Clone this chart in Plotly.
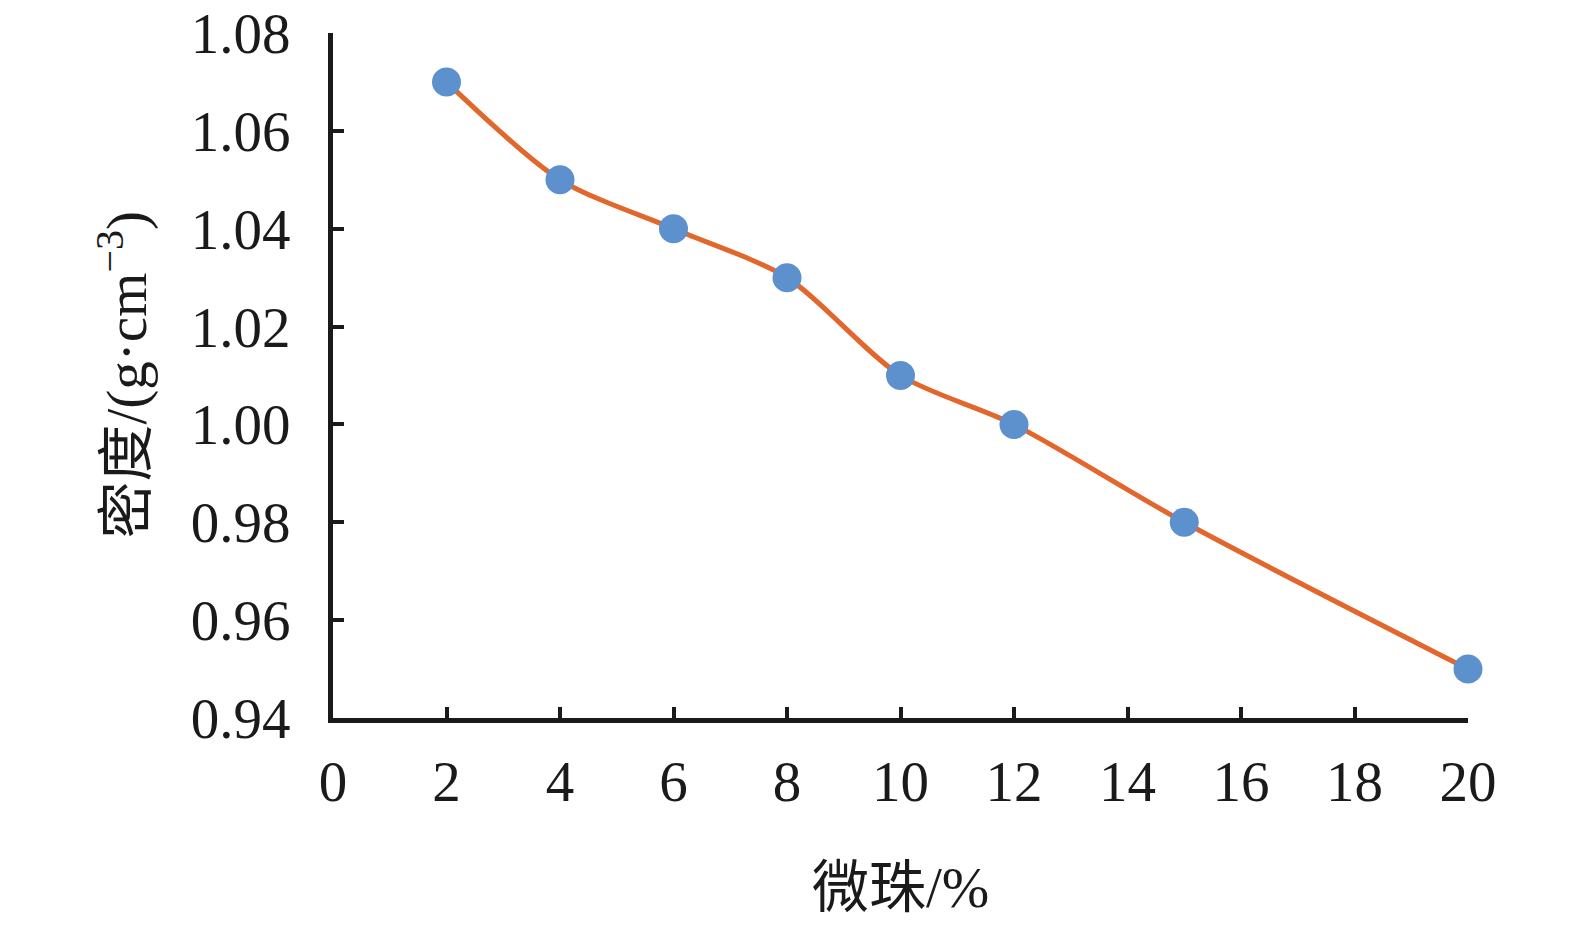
import plotly.graph_objects as go

microbead_pct = [2, 4, 6, 8, 10, 12, 15, 20]
density = [1.07, 1.05, 1.04, 1.03, 1.01, 1.00, 0.98, 0.95]
x_ticks = [0, 2, 4, 6, 8, 10, 12, 14, 16, 18, 20]
y_ticks = [0.94, 0.96, 0.98, 1.00, 1.02, 1.04, 1.06, 1.08]
y_tick_text = ["0.94", "0.96", "0.98", "1.00", "1.02", "1.04", "1.06", "1.08"]

FONT = "Liberation Serif, Noto Sans CJK SC, serif"

fig = go.Figure()
fig.add_trace(go.Scatter(
    x=microbead_pct, y=density, mode="lines+markers",
    line=dict(color="#E2672D", width=5, shape="spline", smoothing=0.8),
    marker=dict(color="#5C91CE", size=29, line=dict(width=0)),
    showlegend=False, cliponaxis=False,
))

fig.update_layout(
    width=1575, height=926,
    margin=dict(l=333, r=107, t=33, b=208),
    paper_bgcolor="white", plot_bgcolor="white",
    font=dict(family=FONT, size=57, color="#1a1a1a"),
    xaxis=dict(range=[0, 20], tickvals=x_ticks, ticks="inside", ticklen=11,
               tickwidth=4, tickcolor="#1a1a1a", showline=True, linewidth=5,
               linecolor="#1a1a1a", showgrid=False, zeroline=False,
               automargin=False, ticklabeloverflow="allow",
               ticklabelstandoff=10, tickfont=dict(size=57, family=FONT)),
    yaxis=dict(range=[0.94, 1.08], tickvals=y_ticks, ticktext=y_tick_text,
               ticks="inside", ticklen=11, tickwidth=4, tickcolor="#1a1a1a",
               showline=True, linewidth=5, linecolor="#1a1a1a",
               showgrid=False, zeroline=False, automargin=False,
               ticklabeloverflow="allow", ticklabelstandoff=26,
               tickfont=dict(size=57, family=FONT)),
    annotations=[
        dict(text="密度/(g·cm<sup>−3</sup>)", xref="paper", yref="paper",
             x=0, y=0.5, xanchor="center", yanchor="middle", xshift=-210,
             textangle=-90, showarrow=False, font=dict(size=57, family=FONT)),
        dict(text="微珠/%", xref="paper", yref="paper", x=0.5, y=0,
             xanchor="center", yanchor="middle", yshift=-169,
             showarrow=False, font=dict(size=57, family=FONT)),
    ],
)

fig.write_html("out.html", config={"displayModeBar": False},
               post_script="document.body.style.margin='0';document.body.style.overflow='hidden';")
